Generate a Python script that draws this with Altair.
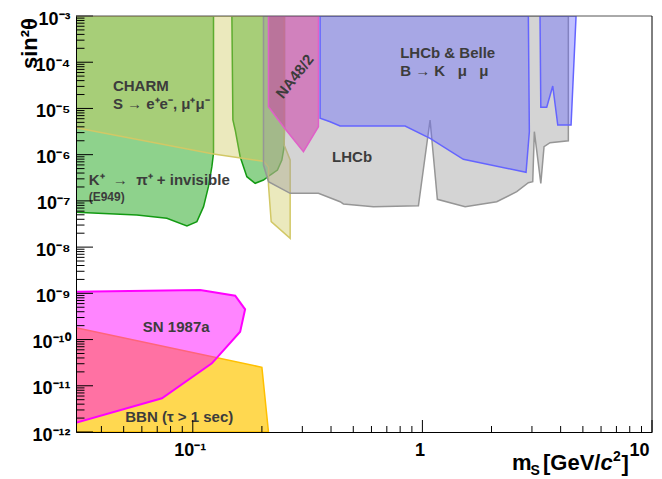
import altair as alt
import pandas as pd

# ---------------- data ----------------
x_domain = [0.031, 10.0]
y_domain = [1e-12, 1e-3]

# K+ -> pi+ + invisible (E949), two lobes
e949_left_x = [0.031, 0.031, 0.0571, 0.0771, 0.0943, 0.1042, 0.1114, 0.117, 0.1211, 0.1231, 0.1231]
e949_left_y = [1e-3, 5.66e-8, 4.96e-8, 4.2e-8, 2.86e-8, 3.55e-8, 7.5e-8, 2.03e-7, 5.5e-7, 1.07e-6, 1e-3]
e949_right_x = [0.148, 0.1495, 0.153, 0.1608, 0.172, 0.1869, 0.2032, 0.2173, 0.2337, 0.2443, 0.25, 0.2507, 0.2507]
e949_right_y = [1e-3, 5.62e-6, 3.42e-6, 9.04e-7, 3.34e-7, 2.4e-7, 2.83e-7, 3.63e-7, 4.66e-7, 7.66e-7, 1.49e-6, 3.42e-6, 1e-3]

# CHARM
charm_x = [0.031, 0.25, 0.25, 0.2655, 0.2655, 0.2195, 0.2136, 0.2136, 0.2032, 0.1231, 0.031]
charm_y = [1e-3, 1e-3, 1.62e-6, 7.66e-7, 1.55e-8, 3.55e-8, 2.21e-7, 5.41e-7, 7.18e-7, 1.03e-6, 3.83e-6]

# LHCb
lhcb_x = [0.2032, 0.2032, 0.2136, 0.2655, 0.3525, 0.4381, 0.453, 0.612, 0.961, 1.080, 1.162, 1.535,
          2.108, 2.576, 2.894, 3.024, 3.073, 3.279, 3.387, 3.597, 4.322, 4.322]
lhcb_y = [1e-3, 5.97e-7, 2.6e-7, 1.46e-7, 1.46e-7, 9.6e-8, 8.57e-8, 7.48e-8, 7.87e-8, 5.62e-6, 1.08e-7, 7.48e-8,
          9.6e-8, 1.58e-7, 2.47e-7, 2.6e-7, 3.14e-6, 2.4e-7, 1.49e-6, 1.82e-6, 2.0e-6, 1e-3]

# NA48/2
na48_x = [0.2136, 0.2136, 0.2482, 0.3033, 0.3525, 0.3525]
na48_y = [1e-3, 1.09e-5, 4.03e-6, 1.16e-6, 4.03e-6, 1e-3]

# LHCb & Belle  B -> K mu mu
bkmm_x = [0.3585, 0.3585, 0.3963, 0.4381, 0.841, 1.080, 1.508, 2.828, 2.923, 2.894]
bkmm_y = [1e-3, 6.12e-6, 5.17e-6, 4.17e-6, 4.17e-6, 2.26e-6, 7.94e-7, 4.15e-7, 3.14e-6, 1e-3]
bkmm2_x = [3.253, 3.279, 3.479, 3.696, 3.887, 4.441, 4.669]
bkmm2_y = [1e-3, 1.06e-5, 1.06e-5, 3.06e-5, 4.38e-6, 4.38e-6, 1e-3]

# BBN
bbn_x = [0.031, 0.2, 0.2136, 0.031]
bbn_y = [1.8e-10, 2.51e-11, 1e-12, 1e-12]

# SN 1987a
sn_x = [0.031, 0.1077, 0.153, 0.169, 0.1608, 0.1211, 0.0734, 0.031]
sn_y = [1.08e-9, 1.18e-9, 8.89e-10, 4.51e-10, 1.48e-10, 3.06e-11, 5.36e-12, 1.59e-12]

# annotation texts and their anchor points (data coordinates)
NB = "\u00a0"
label_text = ["CHARM",
              "S" + NB + "\u2192" + NB + "e\u207ae\u207b, \u03bc\u207a\u03bc\u207b",
              "K\u207a" + NB * 2 + "\u2192" + NB * 2 + "\u03c0\u207a + invisible",
              "LHCb", "LHCb & Belle",
              "B" + NB + "\u2192" + NB + "K" + NB * 3 + "\u03bc" + NB * 3 + "\u03bc",
              "SN 1987a", "BBN (\u03c4 > 1 sec)"]
label_x = [0.0449, 0.0449, 0.0352, 0.494, 0.80, 0.80, 0.0847, 0.0508]
label_y = [3.06e-5, 1.25e-5, 2.83e-7, 8.9e-7, 1.61e-4, 6.46e-5, 1.87e-10, 2.14e-12]
label_align = ["left", "left", "left", "center", "left", "left", "center", "left"]
small_text = ["(E949)"]
small_x = [0.0352]
small_y = [1.23e-7]
rot_text = ["NA48/2"]
rot_x = [0.278]
rot_y = [4.91e-5]

# axis ticks
SUP = str.maketrans("-0123456789", "\u207b\u2070\u00b9\u00b2\u00b3\u2074\u2075\u2076\u2077\u2078\u2079")
x_major = [0.1, 1.0, 10.0]
x_major_labels = ["10" + "-1".translate(SUP), "1", "10"]
x_minor = [0.04, 0.05, 0.06, 0.07, 0.08, 0.09,
           0.2, 0.3, 0.4, 0.5, 0.6, 0.7, 0.8, 0.9,
           2, 3, 4, 5, 6, 7, 8, 9]
y_major_exp = [-12, -11, -10, -9, -8, -7, -6, -5, -4, -3]
y_major = [10.0 ** e for e in y_major_exp]
y_major_labels = ["10" + str(e).translate(SUP) for e in y_major_exp]
y_minor = [m * 10.0 ** e for e in range(-12, -3) for m in range(2, 10)]

# ---------------- chart ----------------
FONT = "Liberation Sans"
TXT = "#3c3c3c"

x_expr = ("datum.value < 0.5 ? '%s' : datum.value < 5 ? '%s' : '%s'" % tuple(x_major_labels))
y_expr = " : ".join("round(log(datum.value)/LN10) == %d ? '%s'" % (e, l)
                    for e, l in zip(y_major_exp, y_major_labels)) + " : ''"

xscale = alt.Scale(type="log", domain=x_domain, nice=False)
yscale = alt.Scale(type="log", domain=y_domain, nice=False)

xaxis = alt.Axis(values=x_major, labelExpr=x_expr, ticks=False, grid=False, domain=True,
                 domainColor="#000000", domainWidth=1, labelFont=FONT, labelFontSize=18,
                 labelFontWeight="bold", labelColor="#000000", labelPadding=9, labelFlush=True,
                 labelOverlap=False, labelOffset=-3, title=None, zindex=1)
yaxis = alt.Axis(values=y_major, labelExpr=y_expr, ticks=False, grid=False, domain=True,
                 domainColor="#000000", domainWidth=1, labelFont=FONT, labelFontSize=18,
                 labelFontWeight="bold", labelColor="#000000", labelPadding=6, labelFlush=False,
                 labelOverlap=False, labelOffset=3, title=None, zindex=1)

X = alt.X("x:Q", scale=xscale, axis=xaxis)
Y = alt.Y("y:Q", scale=yscale, axis=yaxis)


def poly(xs, ys, fill, stroke, fop, sw=1.5):
    n = len(xs)
    df = pd.DataFrame({"x": list(xs) + [xs[0]], "y": list(ys) + [ys[0]], "i": list(range(n + 1))})
    return alt.Chart(df).mark_line(fill=fill, fillOpacity=fop, stroke=stroke, strokeWidth=sw,
                                   clip=True, interpolate="linear").encode(
        x=X, y=Y, order=alt.Order("i:Q"))


layers = [
    poly(e949_left_x, e949_left_y, "#8ed28c", "#139a13", 1.0),
    poly(e949_right_x, e949_right_y, "#8ed28c", "#139a13", 1.0),
    poly(charm_x, charm_y, "#ccc85a", "#d2c866", 0.4),
    poly(lhcb_x, lhcb_y, "#a0a0a0", "#969696", 0.45),
    poly(na48_x, na48_y, "#cd3caa", "#e060c8", 0.55),
    poly(bkmm_x, bkmm_y, "#6464ff", "#6464ff", 0.4),
    poly(bkmm2_x, bkmm2_y, "#6464ff", "#6464ff", 0.4),
    poly(bbn_x, bbn_y, "#ffd850", "#ffc000", 1.0),
    poly(sn_x, sn_y, "#ff00ff", "#ff00ff", 0.48, 2),
]

lab_df = pd.DataFrame({"x": label_x, "y": label_y, "t": label_text, "a": label_align})
for al in ["left", "center"]:
    layers.append(alt.Chart(lab_df[lab_df.a == al]).mark_text(
        font=FONT, fontSize=15, fontWeight="bold", color=TXT, align=al, baseline="middle").encode(
        x=X, y=Y, text="t:N"))
layers.append(alt.Chart(pd.DataFrame({"x": small_x, "y": small_y, "t": small_text})).mark_text(
    font=FONT, fontSize=12, fontWeight="bold", color=TXT, align="left", baseline="middle").encode(
    x=X, y=Y, text="t:N"))
layers.append(alt.Chart(pd.DataFrame({"x": rot_x, "y": rot_y, "t": rot_text})).mark_text(
    font=FONT, fontSize=15, fontWeight="bold", color=TXT, align="center", baseline="middle",
    angle=308).encode(x=X, y=Y, text="t:N"))

# ticks drawn inside the frame
layers.append(alt.Chart(pd.DataFrame({"y": y_major})).mark_rule(color="#000", strokeWidth=1).encode(
    y=Y, x=alt.value(0), x2=alt.value(17)))
layers.append(alt.Chart(pd.DataFrame({"y": y_minor})).mark_rule(color="#000", strokeWidth=1).encode(
    y=Y, x=alt.value(0), x2=alt.value(8.5)))
layers.append(alt.Chart(pd.DataFrame({"x": x_major})).mark_rule(color="#000", strokeWidth=1).encode(
    x=X, y=alt.value(416), y2=alt.value(404)))
layers.append(alt.Chart(pd.DataFrame({"x": x_minor})).mark_rule(color="#000", strokeWidth=1).encode(
    x=X, y=alt.value(416), y2=alt.value(410)))

# frame top and right
layers.append(alt.Chart(pd.DataFrame({"y": [y_domain[1]]})).mark_rule(color="#555", strokeWidth=1).encode(y=Y))
layers.append(alt.Chart(pd.DataFrame({"x": [x_domain[1]]})).mark_rule(color="#000", strokeWidth=1).encode(x=X))

# axis titles: sin^2(theta) and m_S [GeV/c^2]
dummy = alt.Data(values=[{}])
layers.append(alt.Chart(dummy).mark_text(
    font=FONT, fontSize=22, fontWeight="bold", color="#000", align="right", baseline="alphabetic",
    angle=270).encode(x=alt.value(-39), y=alt.value(2), text=alt.value("sin\u00b2\u03b8")))

title_parts = [
    ("m", 436, 454, 22, "normal"),
    ("S", 454.5, 459, 14, "normal"),
    ("[GeV/", 467, 454, 22, "normal"),
    ("c", 524.5, 454, 22, "italic"),
    ("2", 537, 445, 14, "normal"),
    ("]", 545.5, 455, 22, "normal"),
]
for t, px, py, fs, st in title_parts:
    layers.append(alt.Chart(dummy).mark_text(
        font=FONT, fontSize=fs, fontWeight="bold", fontStyle=st, color="#000", align="left",
        baseline="alphabetic").encode(x=alt.value(px), y=alt.value(py), text=alt.value(t)))

chart = alt.layer(*layers).properties(
    width=576, height=416,
    autosize=alt.AutoSizeParams(type="none"),
    padding={"left": 68, "top": 8, "right": 2, "bottom": 47},
).configure_view(stroke=None)

chart.save("out.html", embed_options={"renderer": "svg", "actions": False})
